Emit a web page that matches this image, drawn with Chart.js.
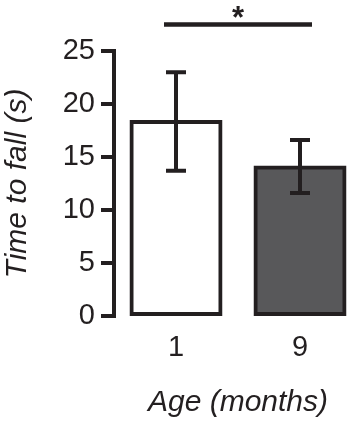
<!DOCTYPE html>
<html>
<head>
<meta charset="utf-8">
<script src="https://cdn.jsdelivr.net/npm/chart.js@4.4.1/dist/chart.umd.min.js"></script>
<style>
html,body{margin:0;padding:0;background:#fff;overflow:hidden;width:348px;height:422px;}
#wrap{position:relative;width:362px;height:422px;}
</style>
</head>
<body>
<div id="wrap"><canvas id="fall-chart"></canvas></div>
<script>
// data
const ageLabels=['1','9'];
const meanTime=[18.3,14.0];
const errLow=[13.7,11.6];
const errHigh=[23.0,16.6];
const barFill=['#ffffff','#58585a'];
const sigPair=[0,1];
const sigLevel=27.5;
const sigMark='*';

const INK='#231f20';
const FONT='"Liberation Sans", Arial, Helvetica, sans-serif';

// error bars + significance line, drawn from the scales
const errorBars={id:'errorBars',
  afterDatasetsDraw(chart){
    const {ctx,scales:{x,y}}=chart;
    const cap=10;
    ctx.save();
    ctx.strokeStyle=INK; ctx.lineWidth=4; ctx.lineCap='butt';
    meanTime.forEach((m,i)=>{
      const px=x.getPixelForValue(i), hi=y.getPixelForValue(errHigh[i]), lo=y.getPixelForValue(errLow[i]);
      ctx.beginPath();
      ctx.moveTo(px,hi); ctx.lineTo(px,lo);
      ctx.moveTo(px-cap,hi); ctx.lineTo(px+cap,hi);
      ctx.moveTo(px-cap,lo); ctx.lineTo(px+cap,lo);
      ctx.stroke();
    });
    const x1=x.getPixelForValue(sigPair[0])-12, x2=x.getPixelForValue(sigPair[1])+12, sy=y.getPixelForValue(sigLevel);
    ctx.lineWidth=4.5;
    ctx.beginPath(); ctx.moveTo(x1,sy); ctx.lineTo(x2,sy); ctx.stroke();
    ctx.fillStyle=INK; ctx.font='bold 31px '+FONT;
    ctx.textAlign='center'; ctx.textBaseline='alphabetic';
    ctx.fillText(sigMark,(x1+x2)/2,sy+3);
    ctx.restore();
  }
};

new Chart(document.getElementById('fall-chart').getContext('2d'),{
  type:'bar',
  data:{labels:ageLabels,
    datasets:[{data:meanTime,backgroundColor:barFill,borderColor:INK,borderWidth:4,
      borderSkipped:false,inflateAmount:2,barThickness:89}]},
  options:{responsive:true,maintainAspectRatio:false,animation:false,
    layout:{padding:{top:51,left:0,right:0,bottom:0}},
    plugins:{legend:{display:false},tooltip:{enabled:false}},
    scales:{
      x:{offset:true,
        grid:{display:false,drawTicks:false},border:{display:false},
        ticks:{padding:15,color:INK,font:{family:FONT,size:29}},
        title:{display:true,text:'Age (months)',color:INK,padding:{top:0,bottom:1},
          font:{family:FONT,size:30,style:'italic'}},
        afterFit:s=>{s.height=106;}},
      y:{min:0,max:25,
        grid:{drawOnChartArea:false,drawTicks:true,tickLength:13,lineWidth:4,color:INK},
        border:{display:true,width:4,color:INK},
        ticks:{stepSize:5,padding:6,color:INK,font:{family:FONT,size:29}},
        title:{display:true,text:'Time to fall (s)',color:INK,padding:{top:0,bottom:0},
          font:{family:FONT,size:30,style:'italic'}},
        afterFit:s=>{s.width=114;}}
    }
  },
  plugins:[errorBars]
});
</script>
</body>
</html>
